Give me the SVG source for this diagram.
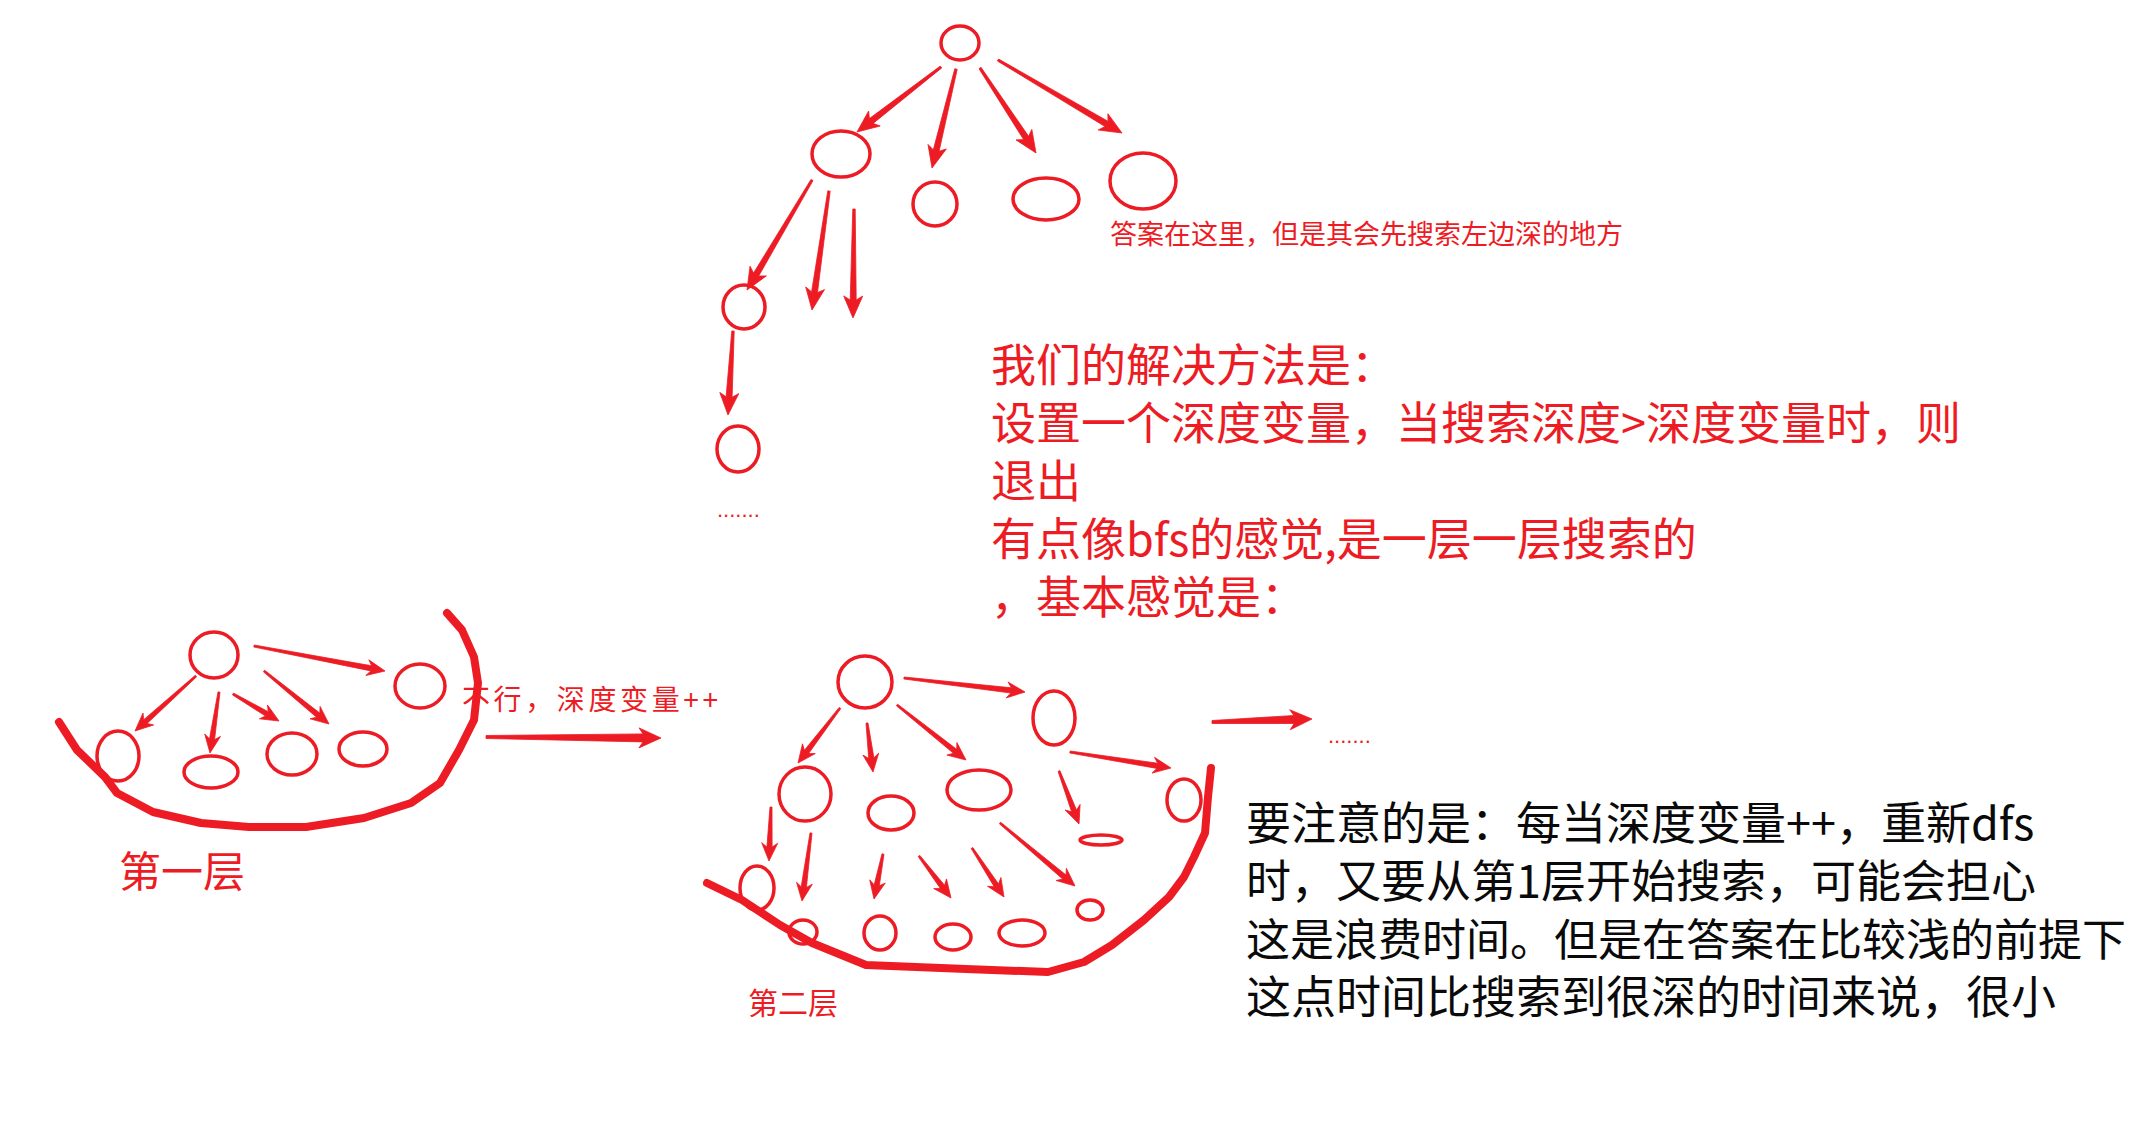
<svg xmlns="http://www.w3.org/2000/svg" width="2136" height="1126" viewBox="0 0 2136 1126">
<defs>
<style>
.n{fill:none;stroke:#ED1C24;stroke-width:3.5}
.c path{fill:#ED1C24;stroke:#ED1C24;stroke-width:0.8;stroke-linejoin:round}
.curve{fill:none;stroke:#ED1C24;stroke-width:8;stroke-linecap:round;stroke-linejoin:round}
.r{fill:#ED1C24;font-family:"Noto Sans CJK SC","Noto Sans",sans-serif}
.k{fill:#0a0a0a;font-family:"Noto Sans CJK SC","Noto Sans",sans-serif}
.big{font-size:45px}
.dots{fill:#ED1C24;font-family:"Liberation Sans",sans-serif;font-size:22px}
</style>
</defs>
<rect width="2136" height="1126" fill="#fff"/>

<!-- top tree -->
<g id="t0"><ellipse class="n" cx="960" cy="43" rx="19" ry="17"/></g>
<g id="t1"><ellipse class="n" cx="841" cy="154" rx="29" ry="23"/></g>
<g id="t2"><ellipse class="n" cx="935" cy="204" rx="22" ry="22"/></g>
<g id="t3"><ellipse class="n" cx="1046" cy="199" rx="33" ry="21"/></g>
<g id="t4"><ellipse class="n" cx="1143" cy="181" rx="33" ry="28"/></g>
<g id="t5"><ellipse class="n" cx="744" cy="307" rx="21" ry="22"/></g>
<g id="t6"><ellipse class="n" cx="738" cy="449" rx="21" ry="23"/></g>
<g id="tdots"><text class="dots" x="717" y="517">.......</text></g>
<g id="tlabel"><text class="r" x="1110" y="244" font-size="27">答案在这里，但是其会先搜索左边深的地方</text></g>

<!-- layer 1 -->
<g id="a0"><ellipse class="n" cx="214" cy="655" rx="24" ry="23"/></g>
<g id="a1"><ellipse class="n" cx="420" cy="686" rx="25" ry="22"/></g>
<g id="a2"><ellipse class="n" cx="118" cy="756" rx="21" ry="25"/></g>
<g id="a3"><ellipse class="n" cx="211" cy="772" rx="27" ry="16"/></g>
<g id="a4"><ellipse class="n" cx="292" cy="754" rx="25" ry="21"/></g>
<g id="a5"><ellipse class="n" cx="363" cy="749" rx="24" ry="17"/></g>
<g id="alabel"><text class="r" x="462" y="710" font-size="28" textLength="256" lengthAdjust="spacing">不行，深度变量++</text></g>
<g id="atitle"><text class="r" x="119" y="887" font-size="42">第一层</text></g>

<!-- layer 2 -->
<g id="b0"><ellipse class="n" cx="865" cy="682" rx="27" ry="26"/></g>
<g id="b1"><ellipse class="n" cx="1054" cy="718" rx="21" ry="27"/></g>
<g id="b2"><ellipse class="n" cx="805" cy="794" rx="26" ry="27"/></g>
<g id="b3"><ellipse class="n" cx="891" cy="813" rx="23" ry="17"/></g>
<g id="b4"><ellipse class="n" cx="979" cy="790" rx="32" ry="20"/></g>
<g id="b5"><ellipse class="n" cx="1101" cy="840" rx="21" ry="5"/></g>
<g id="b6"><ellipse class="n" cx="1184" cy="800" rx="17" ry="21"/></g>
<g id="b7"><ellipse class="n" cx="757" cy="888" rx="17" ry="22"/></g>
<g id="b8"><ellipse class="n" cx="803" cy="932" rx="14" ry="12"/></g>
<g id="b9"><ellipse class="n" cx="880" cy="933" rx="16" ry="17"/></g>
<g id="b10"><ellipse class="n" cx="953" cy="937" rx="18" ry="13"/></g>
<g id="b11"><ellipse class="n" cx="1022" cy="933" rx="23" ry="13"/></g>
<g id="b12"><ellipse class="n" cx="1090" cy="910" rx="13" ry="10"/></g>
<g id="bdots"><text class="dots" x="1328" y="743">.......</text></g>
<g id="btitle"><text class="r" x="748" y="1014" font-size="30">第二层</text></g>

<!-- layer boundaries -->
<g id="layers">
<path class="curve" d="M59,722 L77,750 L105,777 L117,793 L153,812 L201,823 L249,827 L306,827 L364,818 L411,803 L440,783 L459,750 L474,720 L478,683 L474,657 L462,630 L447,613"/>
<path class="curve" d="M707,883 L742,900 L780,925 L812,943 L866,965 L966,969 L1048,972 L1084,962 L1112,945 L1144,920 L1169,897 L1184,877 L1194,857 L1205,833 L1208,797 L1211,768"/>
</g>

<!-- connectors (tapered hand-drawn arrows) -->
<g id="connectors" class="c">
<path d="M940.3,66.1 L869.4,118.6 L868.6,111.0 L857,132 L880.2,126.0 L873.1,123.4 L941.7,67.9 Z"/>
<path d="M954.8,68.7 L933.3,149.8 L928.0,144.4 L932,168 L946.4,148.9 L939.1,151.2 L957.2,69.3 Z"/>
<path d="M979,68.7 L1023.6,139.6 L1016.0,139.9 L1036,153 L1031.8,129.4 L1028.6,136.3 L981,67.3 Z"/>
<path d="M997.4,61.0 L1105.0,126.5 L1098.2,130.0 L1122,133 L1107.9,113.7 L1108.0,121.3 L998.6,59.0 Z"/>
<path d="M811.0,179.4 L753.6,273.0 L750.0,266.2 L747,290 L766.4,275.9 L758.7,276.0 L813.0,180.6 Z"/>
<path d="M827.8,190.8 L811.6,291.8 L805.7,286.9 L812,310 L824.5,289.6 L817.5,292.6 L830.2,191.2 Z"/>
<path d="M852.8,209 L850.2,300 L843.7,295.9 L853,318 L862.7,296.1 L856.2,300 L855.2,209 Z"/>
<path d="M731.8,330.9 L726.1,396.8 L719.8,392.4 L728,415 L738.8,393.6 L732.1,397.2 L734.2,331.1 Z"/>

<path d="M253.8,647.0 L370.8,670.9 L365.8,675.5 L385,671 L368.8,659.8 L371.7,665.8 L254.2,645.0 Z"/>
<path d="M195.3,675.3 L143.7,719.7 L143.0,713.0 L135,731 L153.7,724.9 L147.1,723.5 L196.7,676.7 Z"/>
<path d="M218.0,691.9 L209.5,738.8 L204.7,734.0 L210,753 L220.5,736.4 L214.6,739.6 L220.0,692.1 Z"/>
<path d="M232.5,694.9 L265.6,716.1 L259.4,718.8 L279,721 L267.5,705.0 L268.2,711.7 L233.5,693.1 Z"/>
<path d="M263.4,671.8 L316.5,717.2 L310.0,718.8 L329,724 L320.1,706.4 L319.8,713.1 L264.6,670.2 Z"/>
<path d="M486,738.5 L643,741.9 L638.9,747.9 L661,738 L639.1,727.9 L643,733.9 L486,735.5 Z"/>

<path d="M903.9,679.0 L1010.8,693.0 L1006.2,697.9 L1025,692 L1008.0,682.0 L1011.4,687.8 L904.1,677.0 Z"/>
<path d="M839.2,707.4 L804.4,750.3 L802.5,743.8 L798,763 L815.3,753.6 L808.6,753.5 L840.8,708.6 Z"/>
<path d="M866.0,723.1 L868.7,758.4 L862.9,755.1 L873,772 L878.7,753.1 L873.9,757.8 L868.0,722.9 Z"/>
<path d="M896.4,705.8 L953.5,753.3 L946.9,755.1 L966,760 L956.9,742.5 L956.7,749.3 L897.6,704.2 Z"/>
<path d="M1069.8,753.0 L1156.8,768.4 L1152.0,773.1 L1171,768 L1154.5,757.3 L1157.6,763.2 L1070.2,751.0 Z"/>
<path d="M1058.1,771.4 L1071.6,811.8 L1065.1,810.0 L1079,824 L1080.1,804.4 L1076.5,810.0 L1059.9,770.6 Z"/>
<path d="M770,807 L766.9,846.9 L761.7,842.7 L769,861 L777.7,843.3 L772.1,847.1 L772,807 Z"/>
<path d="M810,832.9 L801.2,886.8 L796.5,882.2 L802,901 L812.3,884.2 L806.4,887.4 L812,833.1 Z"/>
<path d="M882,853.8 L874.2,884.8 L869.7,879.8 L874,899 L885.3,883.0 L879.3,885.8 L884,854.2 Z"/>
<path d="M918.2,856.6 L940.4,888.5 L933.7,888.6 L951,898 L946.5,878.9 L944.6,885.3 L919.8,855.4 Z"/>
<path d="M971.2,848.5 L994.2,886.7 L987.5,886.3 L1004,897 L1000.9,877.5 L998.5,883.9 L972.8,847.5 Z"/>
<path d="M999.4,823.8 L1062.6,879.0 L1056.1,880.5 L1075,886 L1066.4,868.3 L1066.0,875.0 L1000.6,822.2 Z"/>
<path d="M1212,723.5 L1294.1,723.5 L1290.3,729.7 L1312,719 L1289.7,709.7 L1293.9,715.5 L1212,720.5 Z"/>
</g>

<!-- explanation texts -->
<g id="method">
<text class="r big" x="991" y="382">我们的解决方法是：<tspan x="991" dy="58">设置一个深度变量，当搜索深度&gt;深度变量时，则</tspan><tspan x="991" dy="58">退出</tspan><tspan x="991" dy="58">有点像bfs的感觉,是一层一层搜索的</tspan><tspan x="991" dy="58">，基本感觉是：</tspan></text>
</g>
<g id="note">
<text class="k big" x="1246" y="840">要注意的是：每当深度变量++，重新dfs<tspan x="1246" dy="58">时，又要从第1层开始搜索，可能会担心</tspan><tspan x="1246" dy="58" font-size="44">这是浪费时间。但是在答案在比较浅的前提下</tspan><tspan x="1246" dy="58">这点时间比搜索到很深的时间来说，很小</tspan></text>
</g>
</svg>
